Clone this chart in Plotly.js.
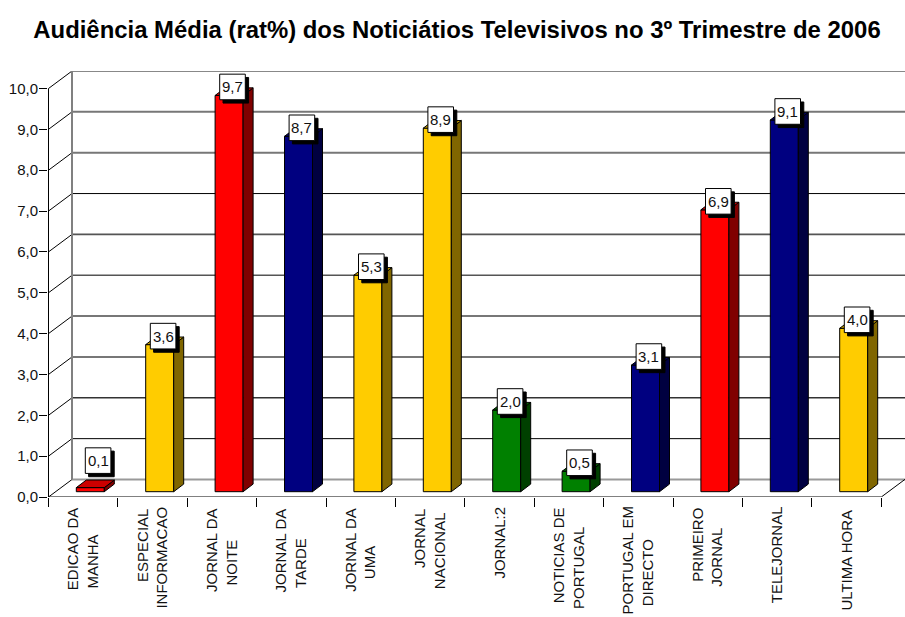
<!DOCTYPE html>
<html>
<head>
<meta charset="utf-8">
<script src="https://cdn.plot.ly/plotly-3.0.1.min.js"></script>
<style>html,body{margin:0;padding:0;background:#fff}#chart{width:905px;height:617px}</style>
</head>
<body>
<div id="chart"></div>
<script>
const firstLines = ['EDICAO DA','ESPECIAL','JORNAL DA','JORNAL DA','JORNAL DA','JORNAL','JORNAL:2','NOTICIAS DE','PORTUGAL EM','PRIMEIRO','TELEJORNAL','ULTIMA HORA'];
const secondLines = ['MANHA','INFORMACAO','NOITE','TARDE','UMA','NACIONAL','','PORTUGAL','DIRECTO','JORNAL','',''];
const values = [0.1,3.6,9.7,8.7,5.3,8.9,2.0,0.5,3.1,6.9,9.1,4.0];
const colorGroup = ['red','gold','red','navy','gold','gold','green','green','navy','red','navy','gold'];
const yTicks = [0,1,2,3,4,5,6,7,8,9,10];
const xBoundaries = [0,1,2,3,4,5,6,7,8,9,10,11,12];
const labelCentres = [549,545,550,550,550,538,543,556,560,545,555,560];
const gridShades = ['#999','#000','#333','#777','#777','#555','#555','#000','#777','#777','#888'];
const gridWidths = [2,1,1.4,2,2,1.6,1.6,1,2,2,2];

const palette = {
  red:  {front:'#FF0000', top:'#CC0000', side:'#800000'},
  gold: {front:'#FFCC00', top:'#CCA300', side:'#806600'},
  navy: {front:'#000080', top:'#000066', side:'#000040'},
  green:{front:'#008000', top:'#006600', side:'#004000'}
};

// pixel geometry of the pseudo 3D frame
const W = 905, H = 617, mL = 48, mT = 71, mB = 120;
const pxX = 69.4, pxY = 40.85, x0Px = 48.5;
const xMin = (mL - x0Px) / pxX, xMax = (W - x0Px) / pxX, yMax = (H - mT - mB) / pxY;
const wallDX = 23.5 / pxX, wallDY = 17.5 / pxY;
const barShift = 7.1 / pxX, barBase = 5.3 / pxY, barW = 28 / pxX;
const depthX = 10 / pxX, depthY = 7.6 / pxY;

const segment = (x0, y0, x1, y1, color, width) => ({
  type:'line', layer:'below', xref:'x', yref:'y', x0, y0, x1, y1,
  line:{color, width: width || 1}
});
const poly = (x, y, fill) => ({
  type:'scatter', mode:'lines', x, y, fill:'toself', fillcolor:fill, hoverinfo:'skip', showlegend:false,
  line:{color:'#000', width:1}
});

const shapes = [], annotations = [], traces = [];
// wall grid lines and left-wall diagonals, kept behind the bars
yTicks.forEach(k => {
  shapes.push(segment(wallDX, k + wallDY, xMax, k + wallDY, gridShades[k], gridWidths[k]));
  shapes.push(segment(0, k, wallDX, k + wallDY, '#000'));
});
shapes.push(segment(wallDX, wallDY, wallDX, 10 + wallDY, '#808080', 2));
// axis lines and floor edge
shapes.push(segment(0, 0, 0, 10, '#000'));
shapes.push(segment(0, 0, 12, 0, '#000'));
shapes.push(segment(12, 0, xMax, wallDY * (xMax - 12) / wallDX, '#000'));

// bars
const barX = values.map((v, i) => i + 0.5 + barShift);
traces.push({
  type:'bar', x:barX, y:values, base:barBase, width:barW, hoverinfo:'skip', showlegend:false,
  marker:{color:colorGroup.map(g => palette[g].front), line:{color:'#000', width:1}}
});
// side and top faces
values.forEach((v, i) => {
  const l = barX[i] - barW / 2, r = barX[i] + barW / 2, b = barBase, t = barBase + v;
  const c = palette[colorGroup[i]];
  traces.push(poly([r, r + depthX, r + depthX, r, r], [b, b + depthY, t + depthY, t, b], c.side));
  traces.push(poly([l, l + depthX, r + depthX, r, l], [t, t + depthY, t + depthY, t, t], c.top));
});

// value label boxes
const half = 12.8;
values.forEach((v, i) => {
  const small = v < 0.3;
  const dx = small ? 7.8 : 3.4, dy = small ? 27 : 8.5;
  const yTop = barBase + v;
  const box = (ox, oy, fill) => ({
    type:'rect', layer:'above', xref:'x', yref:'y',
    xsizemode:'pixel', ysizemode:'pixel', xanchor:barX[i], yanchor:yTop,
    x0:dx - half + ox, x1:dx + half + ox, y0:dy - half + oy, y1:dy + half + oy,
    fillcolor:fill, line:{color:'#000', width:1}
  });
  shapes.push(box(3.3, -3.3, '#000'));
  shapes.push(box(0, 0, '#fff'));
  annotations.push({
    xref:'x', yref:'y', x:barX[i], y:yTop, xshift:dx, yshift:dy, showarrow:false,
    text:v.toFixed(1).replace('.', ','), font:{family:'Liberation Sans', size:15, color:'#111'},
    xanchor:'center', yanchor:'middle'
  });
});
// category labels, second line set lower with trailing spaces as in the reference
const pad = '\u00A0'.repeat(6);
firstLines.forEach((t, i) => {
  const two = secondLines[i] !== '';
  annotations.push({
    xref:'x', yref:'paper', x:i + 0.5, y:0, xshift:-1, yshift:-(labelCentres[i] - (H - mB)),
    text: two ? t + '<br>' + secondLines[i] + pad : t,
    textangle:-90, showarrow:false, align:'center', xanchor:'center', yanchor:'middle',
    font:{family:'Liberation Sans', size:15, color:'#111'}
  });
});

const layout = {
  width:W, height:H,
  paper_bgcolor:'#fff', plot_bgcolor:'#fff',
  margin:{l:mL, r:0, t:mT, b:mB, pad:0},
  separators:',.',
  showlegend:false,
  title:{
    text:'Audiência Média (rat%) dos Noticiátios Televisivos no 3º Trimestre de 2006',
    x:457 / W, xanchor:'center', y:1 - 30 / H, yanchor:'middle',
    font:{family:'Liberation Sans', size:23.9, color:'#000', weight:700}
  },
  xaxis:{
    range:[xMin, xMax], tickmode:'array', tickvals:xBoundaries, ticktext:xBoundaries.map(() => ''),
    ticks:'outside', ticklen:9, tickcolor:'#000', tickwidth:1, showgrid:false, zeroline:false,
    showline:false, fixedrange:true
  },
  yaxis:{
    range:[0, yMax], tickmode:'array', tickvals:yTicks, tickformat:'.1f',
    ticks:'outside', ticklen:8, tickcolor:'#000', tickwidth:1, showgrid:false, zeroline:false,
    showline:false, fixedrange:true, ticklabelstandoff:-2,
    tickfont:{family:'Liberation Sans', size:15, color:'#111'}
  },
  shapes, annotations,
  bargap:0
};
Plotly.newPlot('chart', traces, layout, {displayModeBar:false, staticPlot:true});
</script>
</body>
</html>
